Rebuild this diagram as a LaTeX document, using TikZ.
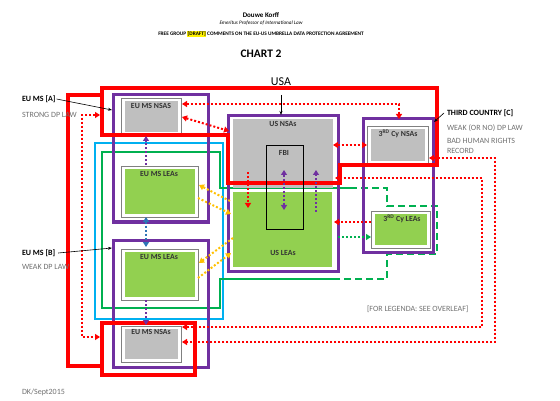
\documentclass[tikz,border=0pt]{standalone}
\usepackage{fontspec}
\setmainfont{Carlito}
\usetikzlibrary{arrows.meta}
\definecolor{cred}{HTML}{FF0000}
\definecolor{cpurple}{HTML}{7030A0}
\definecolor{ccyan}{HTML}{00B0F0}
\definecolor{cgreen}{HTML}{00B050}
\definecolor{cgray}{HTML}{BFBFBF}
\definecolor{clgreen}{HTML}{92D050}
\definecolor{cgold}{HTML}{FFC000}
\definecolor{cblue}{HTML}{2E75B6}
\definecolor{ctext}{HTML}{707070}
\definecolor{cframe}{HTML}{808080}
\tikzset{
  frame/.style={draw=cframe, line width=0.7pt, inner sep=0pt, outer sep=0pt, rectangle, anchor=north west},
  fillbox/.style={inner sep=0pt, outer sep=0pt, rectangle, anchor=north west},
  pbox/.style={draw=cpurple, line width=3pt, inner sep=0pt, outer sep=0pt, rectangle, anchor=north west},
  redline/.style={draw=cred, line width=3.2pt},
  dotline/.style={line width=2pt, dash pattern=on 2pt off 2pt},
  rdot/.style={dotline, draw=cred},
  pdot/.style={dotline, draw=cpurple},
  bdot/.style={dotline, draw=cblue},
  ydot/.style={dotline, draw=cgold},
  gdot/.style={dotline, draw=cgreen},
  pointer/.style={draw=black, line width=0.6pt, -{Stealth[length=4pt,width=3pt]}},
  lbl/.style={font=\fontsize{8}{9.5}\selectfont, inner sep=0pt, outer sep=0pt},
  blbl/.style={font=\bfseries\fontsize{8}{9.5}\selectfont, inner sep=0pt, outer sep=0pt},
  boxlbl/.style={font=\bfseries\fontsize{7.8}{9}\selectfont, inner sep=0pt, outer sep=0pt, text=black!80},
  glbl/.style={lbl, text=ctext},
}
\begin{document}
\begin{tikzpicture}[x=1pt, y=-1pt, >={Triangle[length=5pt,width=6pt]}]
\useasboundingbox (0,0) rectangle (560,401);

% header
\node[font=\bfseries\fontsize{7}{8}\selectfont, inner sep=0pt] (hname) at (261,15) {Douwe Korff};
\node[font=\itshape\fontsize{5.2}{6}\selectfont, inner sep=0pt] (hprof) at (261,23) {Emeritus Professor of International Law};
\node[font=\bfseries\fontsize{5.3}{6}\selectfont, inner sep=0pt] (htitle) at (261,34) {FREE GROUP {\setlength{\fboxsep}{0.3pt}\colorbox{yellow}{[DRAFT]}} COMMENTS ON THE EU-US UMBRELLA DATA PROTECTION AGREEMENT};
\node[font=\bfseries\fontsize{11.5}{13}\selectfont, inner sep=0pt] (hchart) at (261,54) {CHART 2};
\node[font=\fontsize{12}{13}\selectfont, inner sep=0pt] (husa) at (281,82) {USA};

% cyan frame
\draw[ccyan, line width=2pt] (95,143) rectangle (223,319);
% green frame (solid + dashed parts)
\draw[cgreen, line width=2pt] (350,188) -- (220,188) -- (220,152) -- (102,152) -- (102,308) -- (220,308) -- (220,279) -- (338,279);
\draw[cgreen, line width=2pt, dash pattern=on 7pt off 4pt] (350,188) -- (387,188) -- (387,206) -- (437,206) -- (437,254) -- (387,254) -- (387,279) -- (338,279);

% inner boxes
\node[frame, minimum width=60pt, minimum height=37pt] (nsaA) at (121,98) {};
\fill[cgray] (124.5,101) rectangle (177.5,132);
\node[frame, minimum width=77pt, minimum height=51pt] (leaA) at (121,166) {};
\fill[clgreen] (124.5,169) rectangle (194.5,214);
\node[frame, minimum width=77pt, minimum height=51pt] (leaB) at (121,249) {};
\fill[clgreen] (124.5,252) rectangle (194.5,297);
\node[frame, minimum width=60pt, minimum height=36pt] (nsaB) at (121,326) {};
\fill[cgray] (124.5,329) rectangle (177.5,359);
\node[frame, minimum width=61pt, minimum height=38pt] (nsaC) at (367,126) {};
\fill[cgray] (370.5,129) rectangle (424.5,161);
\node[frame, minimum width=59pt, minimum height=37pt] (leaC) at (371,211) {};
\fill[clgreen] (374.5,214) rectangle (426.5,245);
\node[fillbox, fill=cgray, minimum width=100pt, minimum height=69pt] (usN) at (233,119) {};
\node[fillbox, fill=clgreen, minimum width=99pt, minimum height=75pt] (usL) at (233,192) {};

% purple boxes
\node[pbox, minimum width=95pt, minimum height=127pt] (pA) at (113,95) {};
\node[pbox, minimum width=95pt, minimum height=127pt] (pB) at (113,240) {};
\node[pbox, minimum width=110pt, minimum height=155pt] (pUS) at (228,116) {};
\node[pbox, minimum width=70pt, minimum height=133pt] (pC) at (363,119) {};

% red frames
\draw[redline] (102,88) -- (437,88) -- (437,165) -- (340,165) -- (340,183) -- (228,183) -- (228,135) -- (102,135) -- cycle;
\draw[redline] (102,95) -- (68,95) -- (68,366) -- (102,366);
\node[draw=cred, line width=3.2pt, inner sep=0pt, outer sep=0pt, anchor=north west, minimum width=93pt, minimum height=52pt] (rB) at (102,323) {};

% FBI
\node[draw=black, line width=1pt, inner sep=0pt, outer sep=0pt, anchor=north west, minimum width=37pt, minimum height=83pt] (fbi) at (266,146) {};

% box labels
\node[boxlbl] (tnsaA) at (151,106) {EU MS NSAS};
\node[boxlbl] (tleaA) at (159,174) {EU MS LEAs};
\node[boxlbl] (tleaB) at (159,257) {EU MS LEAs};
\node[boxlbl] (tnsaB) at (151,332) {EU MS NSAs};
\node[boxlbl] (tusN) at (283,124) {US NSAs};
\node[boxlbl] (tusL) at (283,253) {US LEAs};
\node[boxlbl] (tfbi) at (284,153) {FBI};
\node[boxlbl] (tnsaC) at (398,134) {3\textsuperscript{RD} Cy NSAs};
\node[boxlbl] (tleaC) at (402,219) {3\textsuperscript{RD} Cy LEAs};

% coordinates for connectors
\coordinate (r1a) at (100,115); \coordinate (r1b) at (82,115);
\coordinate (r1c) at (82,337);  \coordinate (r1d) at (100,337);
\coordinate (r2a) at (182,104); \coordinate (r2b) at (399,104); \coordinate (r2c) at (399,119);
\coordinate (r3a) at (182,117); \coordinate (r3b) at (229,131);
\coordinate (r4a) at (333,145); \coordinate (r4b) at (367,145);
\coordinate (r5a) at (429,158); \coordinate (r5b) at (495,158); \coordinate (r5c) at (495,342); \coordinate (r5d) at (182,342);
\coordinate (r6a) at (335,178); \coordinate (r6b) at (482,178); \coordinate (r6c) at (482,327); \coordinate (r6d) at (182,327);
\coordinate (r7a) at (248,172); \coordinate (r7b) at (248,208);
\coordinate (r8a) at (371,222); \coordinate (r8b) at (334,222);
\coordinate (p1a) at (284,170); \coordinate (p1b) at (284,210);
\coordinate (p2a) at (316,212); \coordinate (p2b) at (316,170);
\coordinate (p3a) at (146,165); \coordinate (p3b) at (146,136);
\coordinate (p4a) at (146,300); \coordinate (p4b) at (146,325);
\coordinate (b1a) at (146,217); \coordinate (b1b) at (146,247);
\coordinate (y1a) at (230,201); \coordinate (y1b) at (199,185);
\coordinate (y2a) at (198,198); \coordinate (y2b) at (231,214);
\coordinate (y3a) at (233,238); \coordinate (y3b) at (199,263);
\coordinate (y4a) at (198,278); \coordinate (y4b) at (231,253);
\coordinate (g1a) at (338,237); \coordinate (g1b) at (371,237);

% red dotted
\draw[rdot,<->] (r1a) -- (r1b) -- (r1c) -- (r1d);
\draw[rdot,<->] (r2a) -- (r2b) -- (r2c);
\draw[rdot,<->] (r3a) -- (r3b);
\draw[rdot,<->] (r4a) -- (r4b);
\draw[rdot,<->] (r5a) -- (r5b) -- (r5c) -- (r5d);
\draw[rdot,<->] (r6a) -- (r6b) -- (r6c) -- (r6d);
\draw[rdot,->] (r7a) -- (r7b);
\draw[rdot,->] (r8a) -- (r8b);
% purple dotted
\draw[pdot,<->] (p1a) -- (p1b);
\draw[pdot,->] (p2a) -- (p2b);
\draw[pdot,->] (p3a) -- (p3b);
\draw[pdot,->] (p4a) -- (p4b);
% blue dotted
\draw[bdot,<->] (b1a) -- (b1b);
% gold dotted
\draw[ydot,->] (y1a) -- (y1b);
\draw[ydot,->] (y2a) -- (y2b);
\draw[ydot,->] (y3a) -- (y3b);
\draw[ydot,->] (y4a) -- (y4b);
% green dotted
\draw[gdot,->] (g1a) -- (g1b);

% side texts
\node[blbl, anchor=west] (tA) at (22,99) {EU MS [A]};
\node[glbl, anchor=west] (tA2) at (22,115) {STRONG DP LAW};
\node[blbl, anchor=west] (tB) at (22,253) {EU MS [B]};
\node[glbl, anchor=west] (tB2) at (22,267) {WEAK DP LAW};
\node[blbl, anchor=west] (tC) at (447,113) {THIRD COUNTRY [C]};
\node[glbl, anchor=west] (tC2) at (447,128) {WEAK (OR NO) DP LAW};
\node[glbl, anchor=north west, align=left, font=\fontsize{8}{10}\selectfont] (tC3) at (447,138) {BAD HUMAN RIGHTS\\RECORD};
\node[glbl, anchor=west] (tleg) at (367,309) {[FOR LEGENDA: SEE OVERLEAF]};
\node[glbl, anchor=west] (tdk) at (22,392) {DK/Sept2015};

% pointers
\coordinate (kA) at (112,110);
\coordinate (kB) at (112,248);
\coordinate (kC) at (434,122);
\coordinate (kU1) at (281,95);
\coordinate (kU2) at (281,115);
\draw[pointer] ([xshift=1pt]tA.east) -- (kA);
\draw[pointer] ([xshift=3pt]tB.east) -- (kB);
\draw[pointer] ([xshift=-3pt]tC.west) -- (kC);
\draw[pointer] (kU1) -- (kU2);
\end{tikzpicture}
\end{document}
